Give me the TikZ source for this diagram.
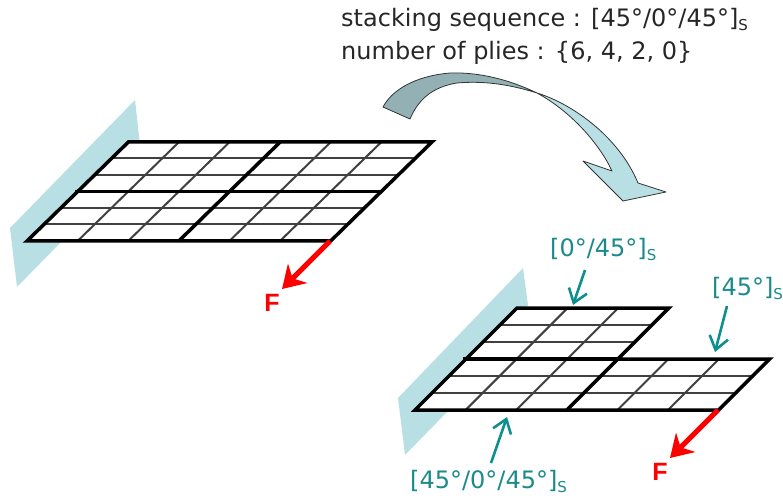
\documentclass[tikz,border=0pt]{standalone}
\usepackage{fontspec}
\setmainfont{DejaVu Sans}
\newfontfamily\boldsans{Liberation Sans}
\usetikzlibrary{arrows.meta}
\definecolor{wallc}{HTML}{B8E0E4}
\definecolor{darkc}{HTML}{93B1B4}
\definecolor{tealc}{HTML}{0E8F8F}
\definecolor{labc}{HTML}{1A8A8A}
\newcommand{\subS}{\raisebox{-4pt}{\fontsize{15}{15}\selectfont S}}
\tikzset{
  thin grid/.style={draw=black!75,line width=2pt},
  thick grid/.style={draw=black,line width=3.5pt,line join=miter,line cap=butt},
  wallshape/.style={fill=wallc,draw=none},
  force/.style={draw=red,line width=5pt,-{Stealth[length=22pt,width=27pt,inset=7pt]}},
  pointer/.style={draw=tealc,line width=2.6pt,-{Straight Barb[length=13pt,width=19pt,line width=2.6pt]}},
  flabel/.style={text=red,font=\boldsans\bfseries\fontsize{25}{25}\selectfont,inner sep=0pt},
  plabel/.style={text=labc,font=\fontsize{24}{24}\selectfont,inner sep=0pt,anchor=base west},
  toptext/.style={text=black!85,font=\fontsize{24}{24}\selectfont,inner sep=0pt,anchor=base west}
}
\begin{document}
\begin{tikzpicture}[x=1pt,y=-1pt]
\useasboundingbox (0,0) rectangle (783,502);
% walls
\fill[wallshape] (135,100) -- (140,145) -- (62,241) -- (17,287) -- (10,228) -- cycle;
\fill[wallshape] (523,268) -- (528,305) -- (447,412) -- (405,455) -- (398,398) -- cycle;
% left plate
\begin{scope}[shift={(27,241)},x={(50.6pt,0pt)},y={(16.9pt,16.5pt)}]
  \fill[white] (0,0) -- (6,0) -- (6,6) -- (0,6) -- cycle;
  \foreach \r in {1,2,4,5} \draw[thin grid] (0,\r) -- (6,\r);
  \foreach \c in {1,2,4,5} \draw[thin grid] (\c,0) -- (\c,6);
  \draw[thick grid] (3,0) -- (3,6);
  \draw[thick grid] (-0.05,3) -- (6,3);
  \draw[thick grid] (6,0) -- (0,0) -- (0,6) -- (6,6) -- cycle;
\end{scope}
% right plate
\begin{scope}[shift={(415,410)},x={(50.6pt,0pt)},y={(17pt,17pt)}]
  \fill[white] (0,0) -- (6,0) -- (6,3) -- (3,3) -- (3,6) -- (0,6) -- cycle;
  \foreach \r in {1,2} \draw[thin grid] (0,\r) -- (6,\r);
  \foreach \r in {4,5} \draw[thin grid] (0,\r) -- (3,\r);
  \foreach \c in {1,2} \draw[thin grid] (\c,0) -- (\c,6);
  \foreach \c in {4,5} \draw[thin grid] (\c,0) -- (\c,3);
  \draw[thick grid] (-0.05,3) -- (3,3);
  \draw[thick grid] (3,3) -- (3,0);
  \draw[thick grid] (0,0) -- (6,0) -- (6,3) -- (3,3) -- (3,6) -- (0,6) -- cycle;
\end{scope}
% curved arrow
\fill[darkc] (383,107) .. controls (392,90) and (415,76) .. (450,73)
  .. controls (480,72) and (510,80) .. (537,93)
  .. controls (505,83) and (480,81) .. (457,83)
  .. controls (432,87) and (418,100) .. (410,119) -- cycle;
\fill[wallc] (537,93) .. controls (570,103) and (618,135) .. (638,183)
  -- (666,192) -- (623,201) -- (583,161) -- (612,171)
  .. controls (600,145) and (572,112) .. (537,93) -- cycle;
\draw[black!80,line width=.8pt,line join=round] (383,107) .. controls (392,90) and (415,76) .. (450,73)
  .. controls (480,72) and (510,80) .. (537,93)
  .. controls (570,103) and (618,135) .. (638,183)
  -- (666,192) -- (623,201) -- (583,161) -- (612,171)
  .. controls (600,145) and (572,112) .. (537,93)
  .. controls (505,83) and (480,81) .. (457,83)
  .. controls (432,87) and (418,100) .. (410,119) -- cycle;
% forces
\coordinate (fa) at (330,241); \coordinate (fb) at (282,289);
\draw[force] (fa) -- (fb);
\node[flabel] (f1) at (272,303) {F};
\coordinate (fc) at (718,410); \coordinate (fd) at (670,458);
\draw[force] (fc) -- (fd);
\node[flabel] (f2) at (660,472) {F};
% pointers
\coordinate (p1a) at (585,270); \coordinate (p1b) at (573,305);
\draw[pointer] (p1a) -- (p1b);
\coordinate (p2a) at (727,306); \coordinate (p2b) at (715,352);
\draw[pointer] (p2a) -- (p2b);
\coordinate (p3a) at (491,463); \coordinate (p3b) at (507,417);
\draw[pointer] (p3a) -- (p3b);
% labels
\node[plabel] (l1) at (550,257) {[0°/45°]\subS};
\node[plabel] (l2) at (712,295) {[45°]\subS};
\node[plabel] (l3) at (410,488) {[45°/0°/45°]\subS};
\node[toptext] (t1) at (341,27) {stacking sequence : [45°/0°/45°]\subS};
\node[toptext] (t2) at (341,60) {number of plies : \{6, 4, 2, 0\}};
\end{tikzpicture}
\end{document}
